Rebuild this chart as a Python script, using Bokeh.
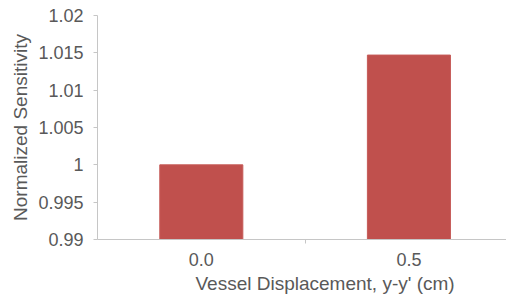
from bokeh.plotting import figure
from bokeh.models import Range1d, LinearAxis, FixedTicker, NumeralTickFormatter, ColumnDataSource, Title
from bokeh.embed import file_html
from bokeh.resources import INLINE

categories = ["0.0", "0.5"]
positions = [0, 1]
values = [1.0, 1.0147]
y_ticks = [0.99, 0.995, 1.0, 1.005, 1.01, 1.015, 1.02]

FONT = "Liberation Sans"
TXT = "#595959"
AX = "#c6c6c6"

p = figure(width=506, height=297, output_backend="svg", toolbar_location=None,
           x_range=Range1d(-0.5, 1.47), y_range=Range1d(0.99, 1.02),
           x_axis_type=None, y_axis_type=None,
           min_border_left=97, min_border_top=15, min_border_bottom=58, min_border_right=0)
p.outline_line_color = None
p.xgrid.visible = False
p.ygrid.visible = False

src = ColumnDataSource(dict(x=positions, top=values))
p.vbar(x="x", top="top", bottom=0.99, width=0.4, source=src,
       fill_color="#C0504D", line_color="#C55A57", line_width=1)

# y axis
ya = LinearAxis(ticker=FixedTicker(ticks=y_ticks), formatter=NumeralTickFormatter(format="0.[000]"))
ya.axis_label = "Normalized Sensitivity"
ya.axis_label_text_font = FONT
ya.axis_label_text_font_size = "19px"
ya.axis_label_text_font_style = "normal"
ya.axis_label_text_color = TXT
ya.axis_label_standoff = 4
ya.major_label_text_font = FONT
ya.major_label_text_font_size = "18px"
ya.major_label_text_color = TXT
ya.major_label_standoff = 10
ya.axis_line_color = AX
ya.major_tick_line_color = AX
ya.major_tick_out = 4
ya.major_tick_in = 0
ya.minor_tick_line_color = None
p.add_layout(ya, "left")

# x axis line with divider tick between categories
xa1 = LinearAxis(ticker=FixedTicker(ticks=[0.5]), major_label_overrides={0.5: ""})
xa1.axis_line_color = AX
xa1.major_tick_line_color = AX
xa1.major_tick_out = 4
xa1.major_tick_in = 0
xa1.minor_tick_line_color = None
xa1.major_label_text_font_size = "1px"
xa1.major_label_standoff = 0
p.add_layout(xa1, "below")

# category labels
xa2 = LinearAxis(ticker=FixedTicker(ticks=positions),
                 major_label_overrides={pos: c for pos, c in zip(positions, categories)})
xa2.axis_line_color = None
xa2.major_tick_line_color = None
xa2.minor_tick_line_color = None
xa2.major_label_text_font = FONT
xa2.major_label_text_font_size = "18px"
xa2.major_label_text_color = TXT
xa2.major_label_standoff = 3
p.add_layout(xa2, "below")

xt = Title(text="Vessel Displacement, y-y' (cm)", align="left", offset=98,
           text_font=FONT, text_font_size="19px", text_font_style="normal",
           text_color=TXT, standoff=5)
p.add_layout(xt, "below")

open("out.html", "w").write(file_html(p, INLINE))
